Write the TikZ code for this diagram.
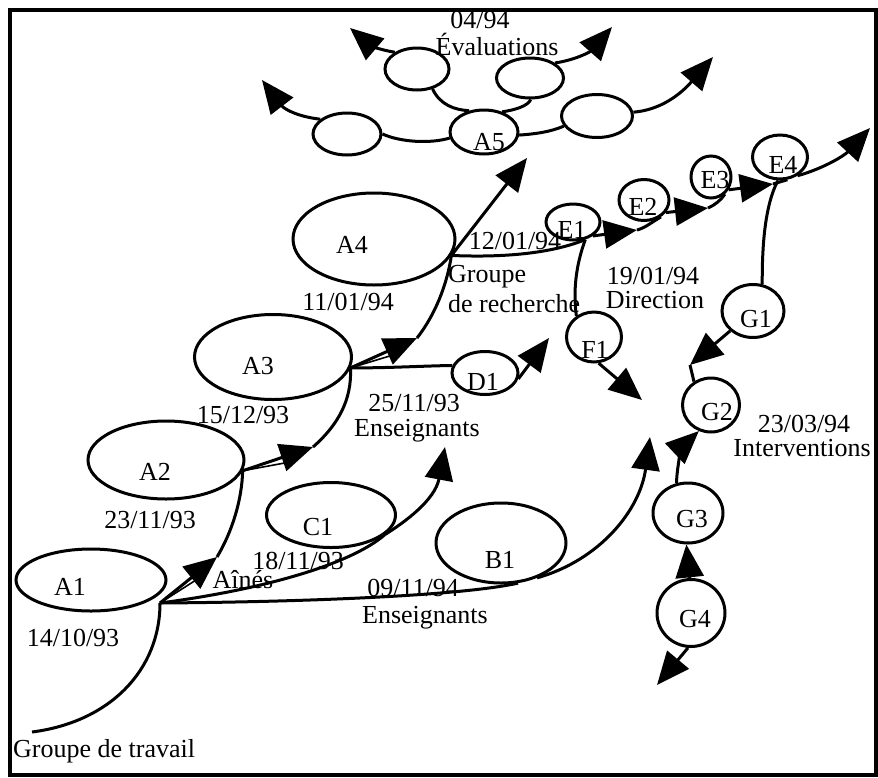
\documentclass[tikz,border=0pt]{standalone}
\usepackage{fontspec}
\setmainfont{Liberation Serif}
\usetikzlibrary{arrows.meta,shapes.geometric}
\begin{document}
\begin{tikzpicture}[x=1pt,y=-1pt,
  ell/.style 2 args={draw, ellipse, line width=3pt, inner sep=0pt, minimum width=#1pt, minimum height=#2pt},
  lbl/.style={font=\fontsize{26}{28}\selectfont, inner sep=0pt, anchor=base},
  lblw/.style={lbl, anchor=base west},
  con/.style={line width=3pt},
  arr/.style={con, -{Triangle[length=33pt,width=28pt]}}
]
\useasboundingbox (0,0) rectangle (878,777);
\draw[line width=3.5pt] (10,10) rectangle (876,775);

% ellipses
\node[ell={150}{62}] (A1) at (91,580) {};
\node[ell={156}{78}] (A2) at (166,460) {};
\node[ell={157}{85}] (A3) at (273,357) {};
\node[ell={162}{92}] (A4) at (374,239) {};
\node[ell={68}{44}] (A5) at (484,132) {};
\node[ell={64}{42}] (V1) at (417,69) {};
\node[ell={67}{40}] (V2) at (530,78) {};
\node[ell={68}{42}] (V3) at (347,134) {};
\node[ell={71}{43}] (V4) at (597,116) {};
\node[ell={129}{65}] (C1) at (331,515) {};
\node[ell={130}{80}] (B1) at (501,543) {};
\node[ell={66}{43}] (D1) at (485,373) {};
\node[ell={54}{36}] (E1) at (573,222) {};
\node[ell={50}{41}] (E2) at (644,200) {};
\node[ell={40}{42}] (E3) at (711,177) {};
\node[ell={55}{44}] (E4) at (780,157) {};
\node[ell={55}{50}] (F1) at (594,337) {};
\node[ell={62}{53}] (G1) at (753,311) {};
\node[ell={57}{54}] (G2) at (711,405) {};
\node[ell={70}{60}] (G3) at (688,513) {};
\node[ell={68}{67}] (G4) at (691,613) {};

% free ends
\coordinate (J1) at (160,603);
\coordinate (S0) at (32,732);
\coordinate (T12) at (217,557);
\coordinate (T23) at (313,447);
\coordinate (T34) at (417,338);
\coordinate (TA) at (527,158);
\coordinate (TD) at (549,338);
\coordinate (TC) at (445,447);
\coordinate (TB) at (650,437);
\coordinate (TE2) at (637,230);
\coordinate (TE3) at (708,208);
\coordinate (TE4) at (773,184);
\coordinate (TE5) at (870,128);
\coordinate (TF) at (642,400);
\coordinate (TG1) at (690,365);
\coordinate (TG5) at (657,685);
\coordinate (TV1) at (350,28);
\coordinate (TV2) at (612,27);
\coordinate (TV3) at (262,80);
\coordinate (TV4) at (713,57);

% A chain
\draw[con] (S0) .. controls (110,722) and (160,670) .. (J1);
\draw[arr] (J1) -- (T12);
\draw[con, line width=1.6pt] (J1) -- (196,580);
\draw[con] (T12) .. controls (232,532) and (242,500) .. (A2.-8);
\draw[arr] (A2.-8) -- (T23);
\draw[con, line width=1.6pt] (A2.-8) -- (290,462);
\draw[con] (T23) .. controls (338,425) and (352,400) .. (A3.-8);
\draw[arr] (A3.-8) -- (T34);
\draw[con, line width=1.6pt] (A3.-8) -- (393,355);
\draw[con] (T34) .. controls (435,315) and (447,285) .. (A4.-12);
\draw[arr] (A4.-12) -- (TA);
\draw[con] (A4.-12) .. controls (510,258) and (555,252) .. (E1.-55);
\draw[con] (A3.-8) .. controls (390,368) and (420,366) .. (D1.167);
\draw[arr] (D1.-10) -- (TD);
\draw[con] (J1) .. controls (260,590) and (350,565) .. (C1.-20);
\draw[arr] (C1.-20) .. controls (405,522) and (435,500) .. (TC);
\draw[con] (J1) .. controls (300,602) and (460,596) .. (B1.-67);
\draw[arr] (B1.-44) .. controls (600,560) and (640,510) .. (TB);

% E chain
\draw[arr] (E1.-35) -- (TE2);
\draw[con] (TE2) .. controls (645,228) and (652,222) .. (E2.-45);
\draw[arr] (E2.-30) -- (TE3);
\draw[con] (TE3) .. controls (715,205) and (721,200) .. (E3.-51);
\draw[arr] (E3.-36) -- (TE4);
\draw[con] (TE4) -- (E4.-72);
\draw[arr] (E4.-47) .. controls (825,168) and (845,155) .. (TE5);
\draw[con] (E4.-95) .. controls (765,205) and (762,245) .. (G1.71);
\draw[con] (E1.-55) .. controls (576,265) and (573,290) .. (F1.130);
\draw[arr] (F1.-80) -- (TF);

% G chain
\draw[arr] (G1.221) -- (TG1);
\draw[con] (TG1) -- (G2.126);
\draw[arr] (G3.111) .. controls (677,462) and (684,445) .. (G2.245);
\draw[arr] (G4.92) -- (G3.-93);
\draw[arr] (G4.-95) -- (TG5);

% evaluations
\draw[arr] (V1.143) .. controls (380,50) and (370,45) .. (TV1);
\draw[arr] (V2.31) .. controls (575,60) and (590,52) .. (TV2);
\draw[arr] (V3.151) .. controls (300,117) and (285,110) .. (TV3);
\draw[arr] (V4.6) .. controls (660,110) and (680,95) .. (TV4);
\draw[con] (V1.-52) .. controls (440,105) and (455,110) .. (A5.125);
\draw[con] (A5.48) .. controls (515,110) and (528,106) .. (V2.-88);
\draw[con] (V3.0) .. controls (400,142) and (430,144) .. (A5.190);
\draw[con] (A5.-5) .. controls (535,134) and (550,132) .. (V4.197);

% node labels
\node[lbl] (tA1) at (70,595) {A1};
\node[lbl] (tA2) at (155,480) {A2};
\node[lbl] (tA3) at (258,374) {A3};
\node[lbl] (tA4) at (352,253) {A4};
\node[lbl] (tA5) at (489,150) {A5};
\node[lbl] (tC1) at (318,535) {C1};
\node[lbl] (tB1) at (500,568) {B1};
\node[lbl] (tD1) at (483,390) {D1};
\node[lbl] (tE1) at (572,238) {E1};
\node[lbl] (tE2) at (643,215) {E2};
\node[lbl] (tE3) at (715,188) {E3};
\node[lbl] (tE4) at (783,173) {E4};
\node[lbl] (tF1) at (595,358) {F1};
\node[lbl] (tG1) at (756,327) {G1};
\node[lbl] (tG2) at (717,420) {G2};
\node[lbl] (tG3) at (692,527) {G3};
\node[lbl] (tG4) at (695,627) {G4};

% other texts
\node[lbl] (d1) at (480,28) {04/94};
\node[lbl] (d2) at (497,55) {Évaluations};
\node[lbl] (d3) at (515,249) {12/01/94};
\node[lblw] (d4) at (448,282) {Groupe};
\node[lblw] (d5) at (448,312) {de recherche};
\node[lbl] (d6) at (653,284) {19/01/94};
\node[lbl] (d7) at (655,308) {Direction};
\node[lbl] (d8) at (348,310) {11/01/94};
\node[lbl] (d9) at (243,423) {15/12/93};
\node[lbl] (d10) at (414,411) {25/11/93};
\node[lbl] (d11) at (417,436) {Enseignants};
\node[lbl] (d12) at (150,528) {23/11/93};
\node[lbl] (d13) at (298,569) {18/11/93};
\node[lbl] (d14) at (243,588) {Aînés};
\node[lbl] (d15) at (413,596) {09/11/94};
\node[lbl] (d16) at (425,623) {Enseignants};
\node[lbl] (d17) at (73,646) {14/10/93};
\node[lblw] (d18) at (13,757) {Groupe de travail};
\node[lbl] (d19) at (804,432) {23/03/94};
\node[lbl] (d20) at (802,456) {Interventions};
\end{tikzpicture}
\end{document}
